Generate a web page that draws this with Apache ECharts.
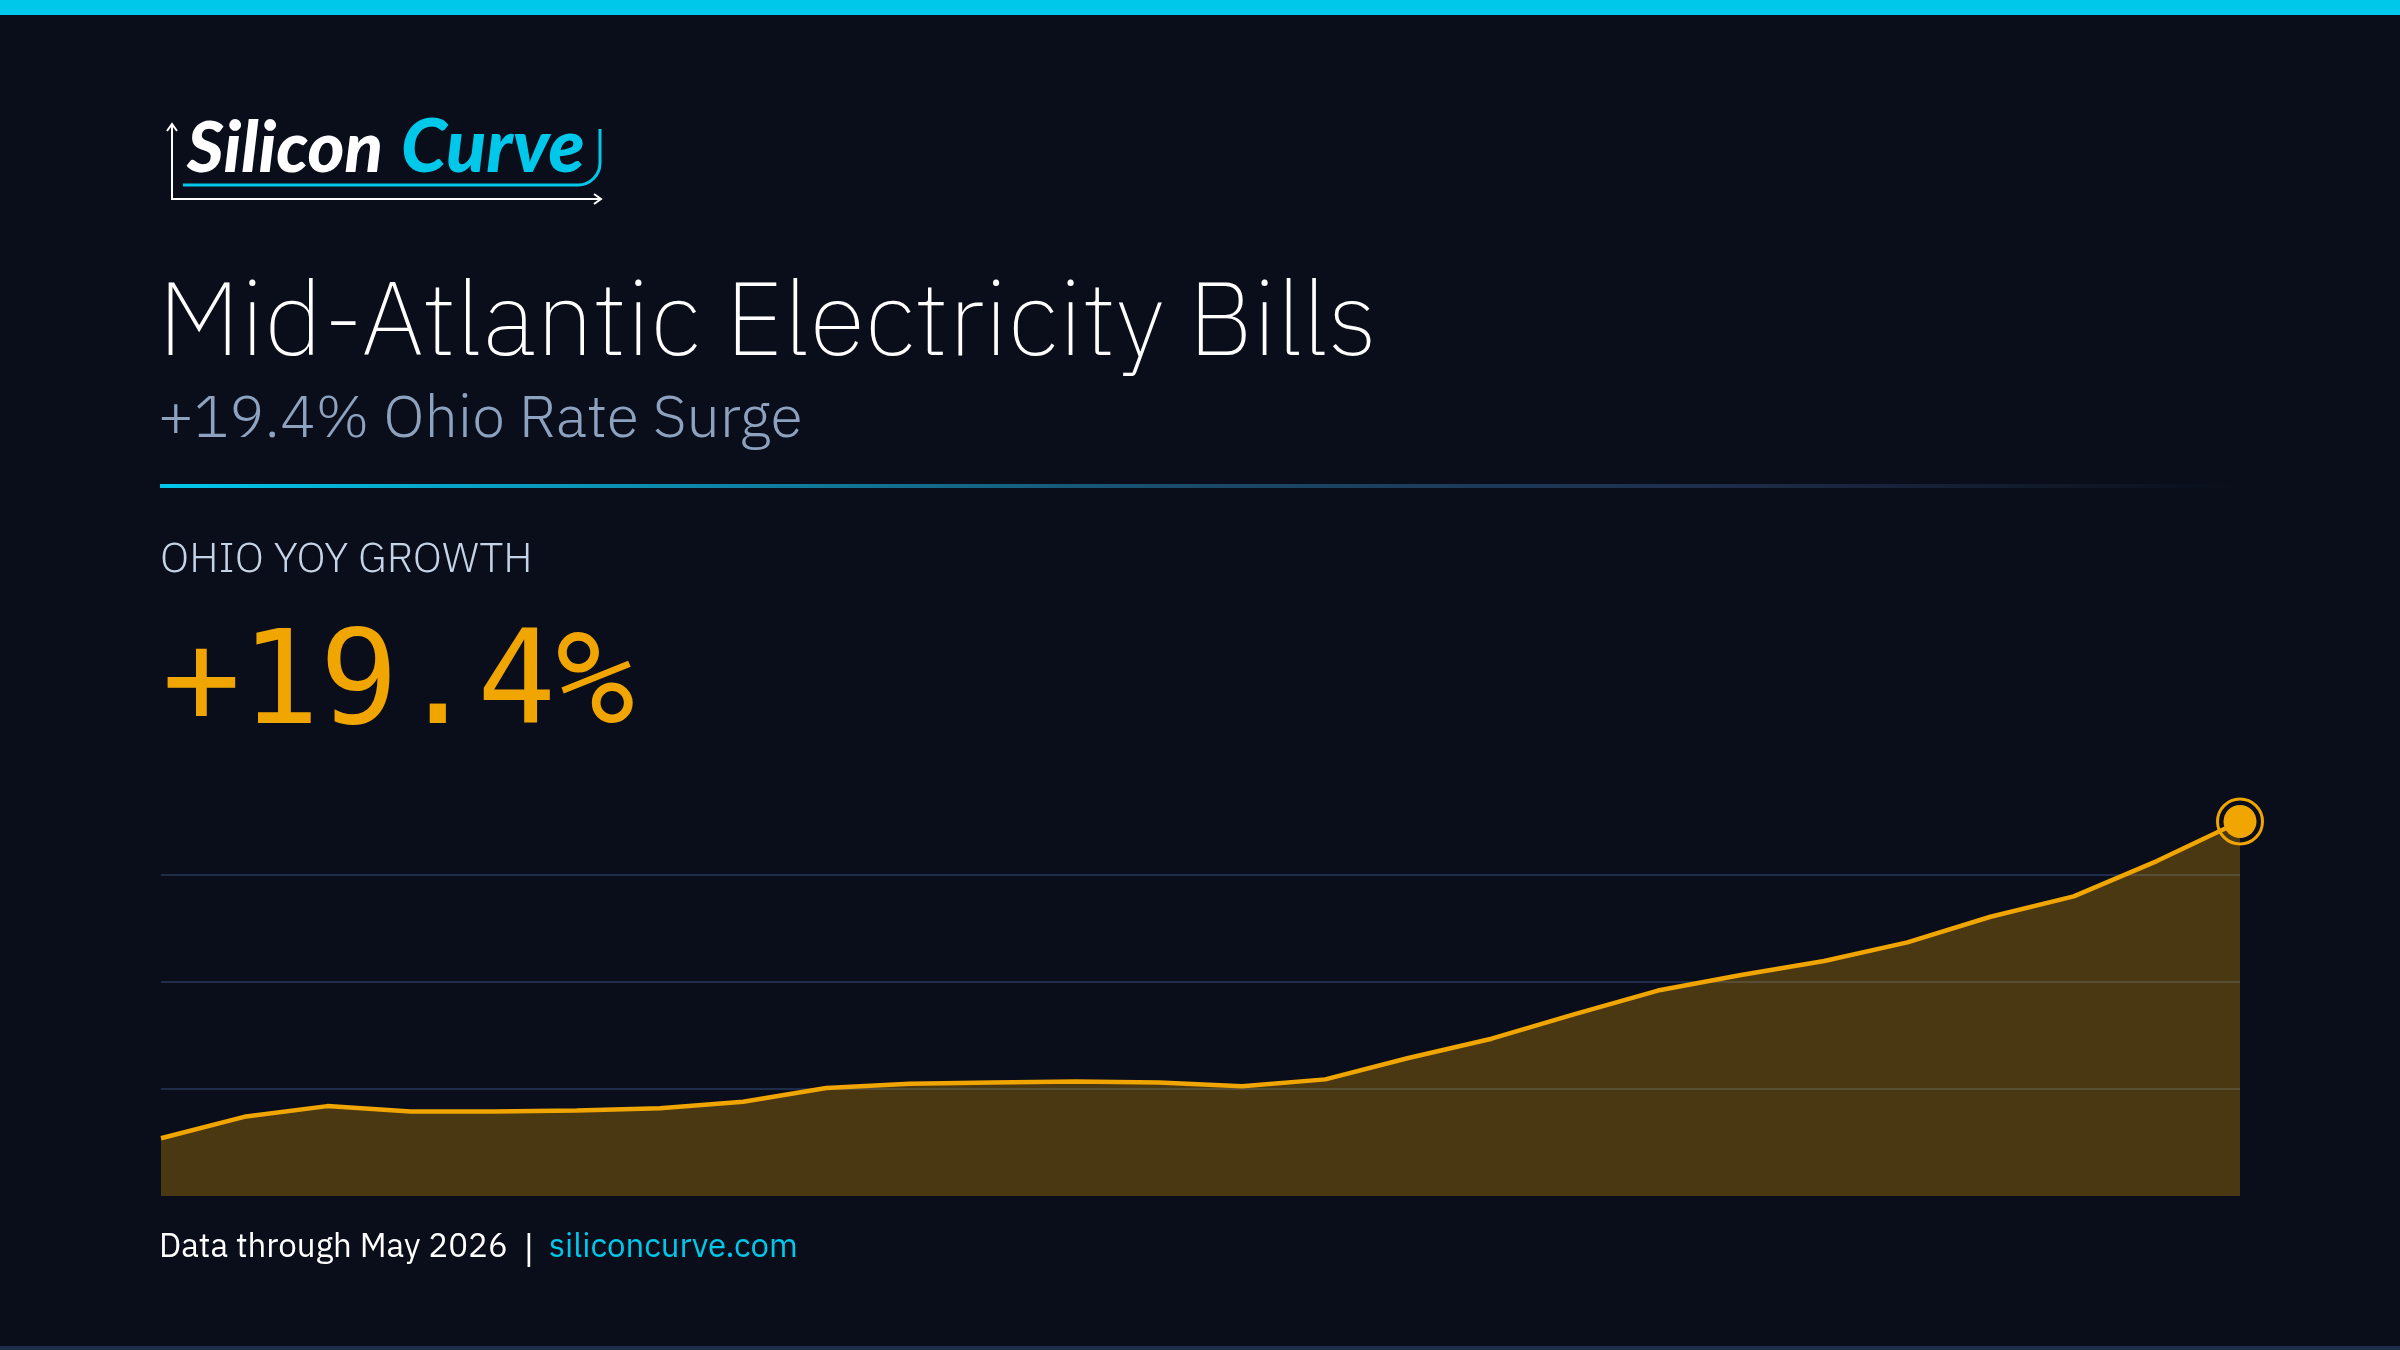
<!DOCTYPE html>
<html><head><meta charset="utf-8">
<script src="https://cdn.jsdelivr.net/npm/echarts@6/dist/echarts.min.js"></script>
<style>html,body{margin:0;padding:0;background:#0a0e1a;overflow:hidden}#c{width:2400px;height:1350px}</style>
</head><body><div id="c"></div>
<script>
// ---- data ----
const months = ['Apr 2024','May 2024','Jun 2024','Jul 2024','Aug 2024','Sep 2024','Oct 2024','Nov 2024','Dec 2024',
  'Jan 2025','Feb 2025','Mar 2025','Apr 2025','May 2025','Jun 2025','Jul 2025','Aug 2025','Sep 2025','Oct 2025','Nov 2025','Dec 2025',
  'Jan 2026','Feb 2026','Mar 2026','Apr 2026','May 2026'];
const ohioIndex = [5.4,7.4,8.4,7.9,7.9,8.0,8.2,8.8,10.1,10.5,10.6,10.7,10.6,10.25,10.9,12.9,14.7,17.0,19.2,20.65,21.96,23.7,26.1,28.0,31.3,35.0];
const yTicks = [0,10,20,30,40];
const titleText = 'Mid-Atlantic Electricity Bills';
const subtitleText = '+19.4% Ohio Rate Surge';
const kpiLabel = 'OHIO YOY GROWTH';
const kpiValue = '+19.4%';
const footerLeft = 'Data through May 2026';
const footerSep = '|';
const footerLink = 'siliconcurve.com';

// ---- text layout helpers (canvas metrics) ----
const mctx = document.createElement('canvas').getContext('2d');
function fontStr(style, weight, size, family){ return style+' '+weight+' '+size+'px '+family; }
function fitText(text, style, weight, family, x0, x1, baseline, fill, z){
  mctx.font = fontStr(style, weight, 100, family);
  mctx.textBaseline = 'alphabetic';
  let m = mctx.measureText(text);
  const ink = m.actualBoundingBoxLeft + m.actualBoundingBoxRight;
  const size = Math.round(100 * (x1 - x0) / ink * 10) / 10;
  const f = fontStr(style, weight, size, family);
  mctx.font = f;
  mctx.textBaseline = 'alphabetic';
  m = mctx.measureText(text);
  const a1 = m.actualBoundingBoxAscent;
  const left = m.actualBoundingBoxLeft;
  mctx.textBaseline = 'middle';
  const m2 = mctx.measureText(text);
  const a2 = m2.actualBoundingBoxAscent;
  const off = a1 - a2;
  return {
    type:'text', z: z||10,
    style:{ text:text, x: x0 + left, y: baseline - off, font: f, fill: fill, textAlign:'left', textVerticalAlign:'middle' }
  };
}

const BG = '#0a0e1a', CYAN = '#00c8eb', ORANGE = '#f0a500', GRID = '#1e2d4a';
const sans = '"IBM Plex Sans", Inter, Roboto, sans-serif';
const mono = '"DejaVu Sans Mono", "Liberation Mono", monospace';
const logoFont = 'Lato, "Open Sans", sans-serif';

const graphics = [
  { type:'rect', shape:{x:0,y:0,width:2400,height:15}, style:{fill:CYAN}, z:1 },
  { type:'rect', shape:{x:0,y:1346,width:2400,height:4}, style:{fill:GRID}, z:1 },
  // logo axes
  { type:'polyline', shape:{points:[[172,125],[172,199],[600,199]]}, style:{stroke:'#ffffff',lineWidth:2,fill:null}, z:10 },
  { type:'polyline', shape:{points:[[167,131],[172,124],[177,131]]}, style:{stroke:'#ffffff',lineWidth:2,fill:null}, z:10 },
  { type:'polyline', shape:{points:[[594,194],[601,199],[594,204]]}, style:{stroke:'#ffffff',lineWidth:2,fill:null}, z:10 },
  { type:'line', shape:{x1:183,y1:185,x2:578,y2:185}, style:{stroke:CYAN,lineWidth:3}, z:10 },
  { type:'arc', shape:{cx:578,cy:163,r:22,startAngle:0,endAngle:Math.PI/2,clockwise:true}, style:{stroke:CYAN,lineWidth:3,fill:null}, z:10 },
  { type:'line', shape:{x1:600,y1:163,x2:600,y2:129}, style:{stroke:CYAN,lineWidth:3}, z:10 },
  fitText('Silicon','italic',900,logoFont,186,380,172,'#ffffff'),
  fitText('Curve','italic',900,logoFont,403,583,172,CYAN),
  // titles
  fitText(titleText,'normal',200,sans,168,1370,355,'#ffffff'),
  fitText(subtitleText,'normal',300,sans,161,800,437,'#8da2bf'),
  // divider
  { type:'rect', shape:{x:160,y:484,width:2080,height:4},
    style:{ fill: { type:'linear', x:0, y:0, x2:1, y2:0, colorStops:[
      {offset:0,color:CYAN},{offset:0.5,color:'#1a4a6a'},{offset:0.75,color:'#1e2d4a'},{offset:1,color:'rgba(30,45,74,0)'}] } }, z:5 },
  fitText(kpiLabel,'normal',300,sans,162,528,572,'#c5d3e6'),
  fitText(kpiValue,'normal',400,mono,167,633,723,ORANGE),
  fitText(footerLeft,'normal',400,sans,162,506,1257,'#ffffff'),
  fitText(footerSep,'normal',400,sans,527,530,1262,'#ffffff'),
  fitText(footerLink,'normal',400,sans,550,795,1257,CYAN)
];

const chart = echarts.init(document.getElementById('c'), null, {renderer:'canvas'});
const lastIdx = ohioIndex.length - 1;
chart.setOption({
  backgroundColor: BG,
  animation: false,
  grid: { left:161, right:160, top:768, bottom:154, containLabel:false },
  xAxis: { type:'category', data: months, boundaryGap:false, show:false },
  yAxis: { type:'value', min: yTicks[0], max: yTicks[yTicks.length-1], interval: yTicks[1]-yTicks[0],
    axisLabel:{show:false}, axisLine:{show:false}, axisTick:{show:false},
    splitLine:{ show:true, showMinLine:false, showMaxLine:false, lineStyle:{color:GRID, width:2} } },
  series: [
    { type:'line', data: ohioIndex, symbol:'none', smooth:false,
      lineStyle:{ color:ORANGE, width:4.5 }, areaStyle:{ color:'rgba(240,165,0,0.28)', opacity:1 }, z:2 },
    { type:'scatter', data:[[months[lastIdx], ohioIndex[lastIdx]]], symbol:'circle', symbolSize:45,
      itemStyle:{ color:'rgba(0,0,0,0)', borderColor:ORANGE, borderWidth:3, opacity:1 }, z:3, silent:true },
    { type:'scatter', data:[[months[lastIdx], ohioIndex[lastIdx]]], symbol:'circle', symbolSize:33,
      itemStyle:{ color:ORANGE, opacity:1 }, z:4, silent:true }
  ],
  graphic: graphics
});
</script>
</body></html>
